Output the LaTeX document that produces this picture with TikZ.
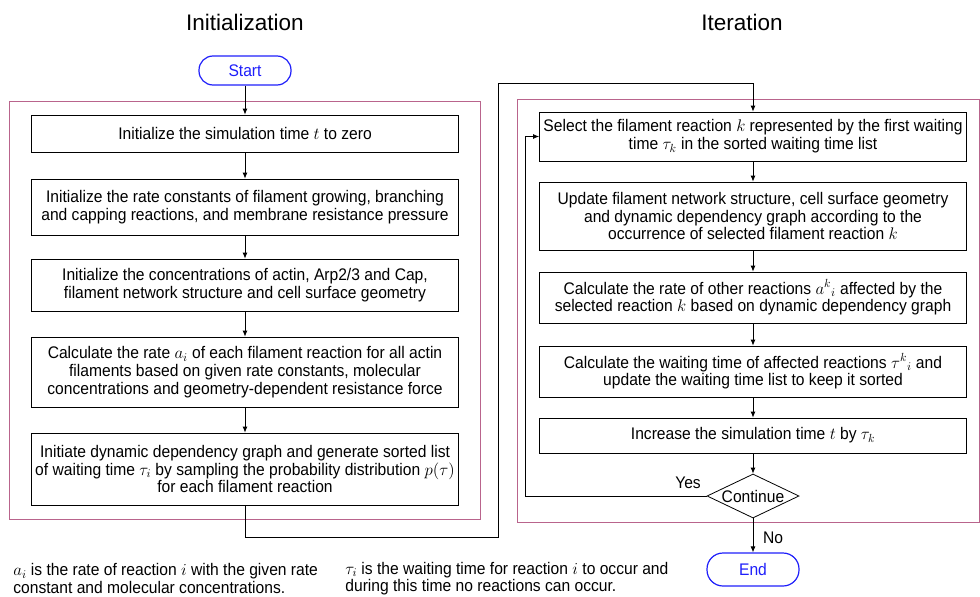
\RequirePackage{fix-cm}
\documentclass[tikz,border=0pt]{standalone}
\usepackage{fontspec}
\setmainfont{Liberation Sans}
\newfontfamily\bodyfont{Liberation Sans}[FakeStretch=0.93]
\usepackage{tikz}
\usetikzlibrary{arrows.meta, shapes.geometric}
\definecolor{mauve}{RGB}{185, 100, 140}
\definecolor{pill}{RGB}{30, 30, 250}

\begin{document}
\begin{tikzpicture}[x=1pt, y=-1pt, line width=0.8pt,
    txt/.style={font=\bodyfont\fontsize{16.8}{17.7}\selectfont},
    head/.style={font=\fontsize{22.5}{24}\selectfont},
    box/.style={txt, draw, align=center, inner sep=0pt, minimum width=427pt},
    term/.style={txt, draw=pill, text=pill, rounded corners=14pt, inner sep=0pt,
        minimum width=92pt, line width=1.2pt},
    flow/.style={-{Latex[length=6pt, width=5pt]}}]

    \useasboundingbox (0, 0) rectangle (980, 597);

    % headings
    \node[head] (hinit) at (245, 22) {Initialization};
    \node[head] (hiter) at (742, 22) {Iteration};

    % the two phases
    \draw[mauve] (9, 101) rectangle (480, 519);
    \draw[mauve] (517, 99) rectangle (979, 522);

    % initialization
    \node[term, minimum height=29pt] (start) at (245, 70.5) {Start};
    \node[box, minimum height=37pt] (init1) at (245, 133.5)
        {Initialize the simulation time $t$ to zero};
    \node[box, minimum height=56pt] (init2) at (245, 207)
        {Initialize the rate constants of filament growing, branching\\
         and capping reactions, and membrane resistance pressure};
    \node[box, minimum height=52pt] (init3) at (245, 285)
        {Initialize the concentrations of actin, Arp2/3 and Cap,\\
         filament network structure and cell surface geometry};
    \node[box, minimum height=70pt] (init4) at (245, 372)
        {Calculate the rate $a_i$ of each filament reaction for all actin\\
         filaments based on given rate constants, molecular\\
         concentrations and geometry-dependent resistance force};
    \node[box, minimum height=72pt] (init5) at (245, 469)
        {Initiate dynamic dependency graph and generate sorted list\\
         of waiting time $\tau_i$ by sampling the probability distribution $p(\tau)$\\
         for each filament reaction};

    % iteration
    \node[box, minimum height=49pt] (sel) at (753, 136.5)
        {Select the filament reaction $k$ represented by the first waiting\\
         time $\tau_k$ in the sorted waiting time list};
    \node[box, minimum height=68pt] (upd) at (753, 216)
        {Update filament network structure, cell surface geometry\\
         and dynamic dependency graph according to the\\
         occurrence of selected filament reaction $k$};
    \node[box, minimum height=51pt] (rate) at (753, 297.5)
        {Calculate the rate of other reactions $a^{k}{}_{i}$ affected by the\\
         selected reaction $k$ based on dynamic dependency graph};
    \node[box, minimum height=51pt] (wait) at (753, 371.5)
        {Calculate the waiting time of affected reactions $\tau^{k}{}_{i}$ and\\
         update the waiting time list to keep it sorted};
    \node[box, minimum height=35pt] (incr) at (753, 435.5)
        {Increase the simulation time $t$ by $\tau_k$};
    \node[txt, draw, shape=diamond, inner sep=0pt, minimum width=92pt,
        minimum height=44pt] (cont) at (753, 496) {\makebox[0pt]{Continue}};
    \node[term, minimum height=33pt, rounded corners=16pt] (finish) at (753, 569.5) {End};

    \node[txt] (yes) at (688, 483) {Yes};
    \node[txt] (no) at (773, 538) {No};

    \foreach \a/\b in {start/init1, init1/init2, init2/init3, init3/init4, init4/init5,
        sel/upd, upd/rate, rate/wait, wait/incr, incr/cont, cont/finish}
        \draw[flow] (\a) -- (\b);

    % hand over to the loop, and loop back
    \draw[flow] (init5.south) |- (498, 537) -- (498, 83) -| (sel.north);
    \draw[flow] (cont.west) -| (525, 136.5) -- (sel.west);

    % notes
    \node[txt, align=left, anchor=west, inner sep=0pt] (noteA) at (13, 578.5)
        {$a_i$ is the rate of reaction $i$ with the given rate\\
         constant and molecular concentrations.};
    \node[txt, align=left, anchor=west, inner sep=0pt] (noteT) at (345, 578.5)
        {$\tau_i$ is the waiting time for reaction $i$ to occur and\\
         during this time no reactions can occur.};

\end{tikzpicture}
\end{document}
